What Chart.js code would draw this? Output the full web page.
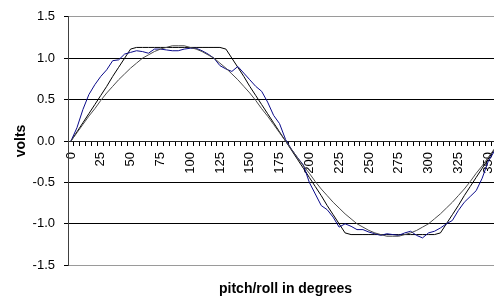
<!DOCTYPE html>
<html>
<head>
<meta charset="utf-8">
<script src="https://cdn.jsdelivr.net/npm/chart.js@4.4.1/dist/chart.umd.min.js"></script>
<style>
  html, body { margin: 0; padding: 0; background: #fff; overflow: hidden; }
  #wrap { width: 494px; height: 302px; overflow: hidden; }
  canvas { display: block; }
</style>
</head>
<body>
<div id="wrap"><canvas id="chart" width="510" height="302"></canvas></div>
<script>
const degrees = [0, 5, 10, 15, 20, 25, 30, 35, 40, 45, 50, 55, 60, 65, 70, 75, 80, 85, 90,
    95, 100, 105, 110, 115, 120, 125, 130, 135, 140, 145, 150, 155, 160, 165, 170, 175, 180,
    185, 190, 195, 200, 205, 210, 215, 220, 225, 230, 235, 240, 245, 250, 255, 260, 265, 270,
    275, 280, 285, 290, 295, 300, 305, 310, 315, 320, 325, 330, 335, 340, 345, 350, 355, 360];

// blue trace (measured)
const measured = [0.00, 0.16, 0.38, 0.56, 0.68, 0.78, 0.86, 0.97, 0.98, 1.05, 1.07, 1.09, 1.08,
    1.06, 1.11, 1.11, 1.10, 1.09, 1.09, 1.11, 1.12, 1.12, 1.09, 1.05, 1.00, 0.91, 0.87, 0.84,
    0.90, 0.82, 0.74, 0.66, 0.60, 0.47, 0.31, 0.21, 0.02, -0.10, -0.20, -0.29, -0.50, -0.64,
    -0.78, -0.83, -0.92, -1.04, -1.00, -1.03, -1.07, -1.07, -1.10, -1.12, -1.14, -1.12, -1.13,
    -1.14, -1.11, -1.09, -1.14, -1.17, -1.11, -1.09, -1.05, -1.00, -0.96, -0.84, -0.74, -0.67,
    -0.60, -0.45, -0.25, -0.13, 0.00];

// black trace (clipped)
const clipped = [0.00, 0.11, 0.22, 0.33, 0.44, 0.55, 0.66, 0.78, 0.89, 1.00, 1.11, 1.13, 1.13,
    1.13, 1.13, 1.13, 1.13, 1.13, 1.13, 1.13, 1.13, 1.13, 1.13, 1.13, 1.13, 1.13, 1.11, 1.00,
    0.89, 0.78, 0.66, 0.55, 0.44, 0.33, 0.22, 0.11, 0.00, -0.11, -0.22, -0.33, -0.44, -0.55,
    -0.66, -0.78, -0.89, -1.00, -1.11, -1.13, -1.13, -1.13, -1.13, -1.13, -1.13, -1.13, -1.13,
    -1.13, -1.13, -1.13, -1.13, -1.13, -1.13, -1.13, -1.11, -1.00, -0.89, -0.78, -0.66, -0.55,
    -0.44, -0.33, -0.22, -0.11, 0.00];

// grey trace (ideal)
const ideal = [0.00, 0.10, 0.20, 0.30, 0.39, 0.49, 0.58, 0.66, 0.74, 0.81, 0.88, 0.94, 1.00,
    1.04, 1.08, 1.11, 1.13, 1.15, 1.15, 1.15, 1.13, 1.11, 1.08, 1.04, 1.00, 0.94, 0.88, 0.81,
    0.74, 0.66, 0.58, 0.49, 0.39, 0.30, 0.20, 0.10, 0.00, -0.10, -0.20, -0.30, -0.39, -0.49,
    -0.58, -0.66, -0.74, -0.81, -0.88, -0.94, -1.00, -1.04, -1.08, -1.11, -1.13, -1.15, -1.15,
    -1.15, -1.13, -1.11, -1.08, -1.04, -1.00, -0.94, -0.88, -0.81, -0.74, -0.66, -0.58, -0.49,
    -0.39, -0.30, -0.20, -0.10, 0.00];

const yTicks = [-1.5, -1.0, -0.5, 0.0, 0.5, 1.0, 1.5];

const font = "'Liberation Sans', Arial, sans-serif";

function line(data, color) {
    return {
        data: data,
        borderColor: color,
        borderWidth: 1,
        pointRadius: 0,
        tension: 0,
        fill: false
    };
}

new Chart(document.getElementById('chart'), {
    type: 'line',
    data: {
        labels: degrees,
        datasets: [
            line(ideal, '#4a4a4a'),
            line(measured, '#0a0a8a'),
            line(clipped, '#000000')
        ]
    },
    options: {
        responsive: false,
        animation: false,
        layout: { padding: { left: 9, top: 13, right: 7, bottom: 0 } },
        plugins: {
            legend: { display: false },
            tooltip: { enabled: false },
            title: {
                display: true,
                text: 'pitch/roll in degrees',
                position: 'bottom',
                fullSize: false,
                color: '#000',
                font: { family: font, size: 14, weight: 'bold' },
                padding: { top: 16, bottom: 4 }
            }
        },
        scales: {
            x: {
                type: 'category',
                position: { y: 0 },
                offset: true,
                afterFit: (scale) => {
                    scale.height = 0;
                    scale.paddingLeft = 0;
                    scale.paddingRight = 0;
                },
                grid: {
                    offset: true,
                    drawOnChartArea: false,
                    drawTicks: true,
                    tickLength: 4,
                    tickColor: '#000'
                },
                border: { color: '#202020' },
                ticks: {
                    autoSkip: false,
                    minRotation: 90,
                    maxRotation: 90,
                    padding: 7,
                    color: '#000',
                    font: { family: font, size: 13 },
                    callback: function (value) {
                        const d = degrees[value];
                        return d % 25 === 0 ? String(d) : '';
                    }
                }
            },
            y: {
                min: -1.5,
                max: 1.5,
                afterFit: (scale) => { scale.width = 59; },
                afterBuildTicks: (scale) => {
                    scale.ticks = yTicks.map(v => ({ value: v }));
                },
                grid: {
                    color: (ctx) => (ctx.tick && Math.abs(ctx.tick.value) === 1.5) ? '#9a9a9a' : '#000',
                    tickColor: '#000',
                    tickLength: 4
                },
                border: { color: '#404040' },
                ticks: {
                    padding: 9,
                    color: '#000',
                    font: { family: font, size: 13 },
                    callback: (v) => v.toFixed(1)
                },
                title: {
                    display: true,
                    text: 'volts',
                    color: '#000',
                    font: { family: font, size: 14, weight: 'bold' }
                }
            }
        }
    }
});
</script>
</body>
</html>
